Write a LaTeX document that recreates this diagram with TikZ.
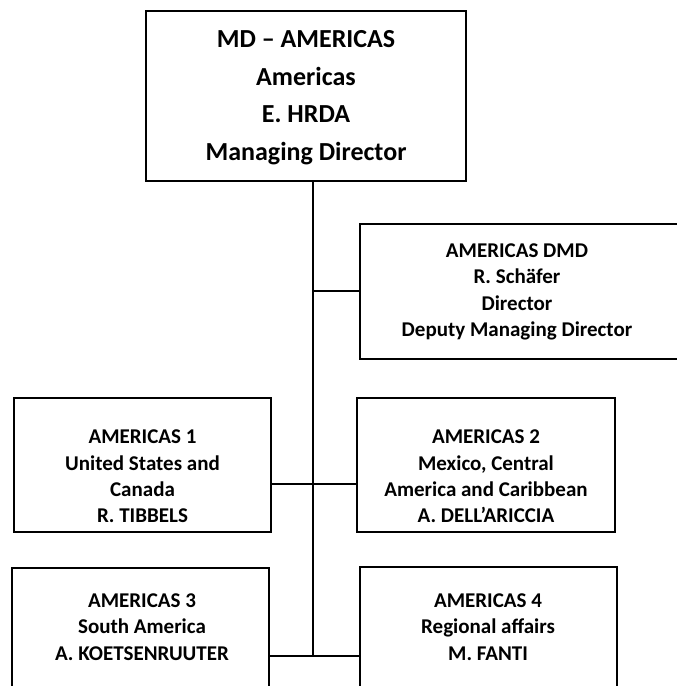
\documentclass[tikz,border=0pt]{standalone}
\usepackage{fontspec}
\setmainfont{Carlito}
\usetikzlibrary{shadows}
\tikzset{
  box/.style={draw=black, line width=1.2pt, fill=white, rectangle, inner sep=0pt,
    drop shadow={shadow xshift=1.2pt, shadow yshift=-1.2pt, fill=black!45, opacity=1}},
  headtxt/.style={align=center, inner sep=0pt,
    font=\fontsize{26}{37.5}\selectfont\bfseries},
  unittxt/.style={align=center, inner sep=0pt,
    font=\fontsize{21}{26.3}\selectfont\bfseries},
  link/.style={draw=black, line width=1.3pt}
}
\begin{document}
\begin{tikzpicture}[x=1pt, y=-1pt]
\useasboundingbox (0,0) rectangle (677,686);
\fill[white] (0,0) rectangle (677,686);
\clip (0,0) rectangle (677,686);

% boxes
\node[box, minimum width=320, minimum height=170] (md) at (306,96) {};
\node[box, minimum width=340, minimum height=135] (dmd) at (530,291.5) {};
\node[box, minimum width=257, minimum height=134] (a1) at (142.5,465) {};
\node[box, minimum width=258, minimum height=134] (a2) at (486,465) {};
\node[box, minimum width=257, minimum height=150] (a3) at (140.5,643) {};
\node[box, minimum width=257, minimum height=150] (a4) at (488.5,642) {};

% junction points on the trunk
\coordinate (jd) at (313,291);
\coordinate (j1) at (313,484);
\coordinate (j3) at (313,656);
\coordinate (topj) at (313,181);

% connectors
\draw[link] (topj) -- (j3);
\draw[link] (jd) -- (dmd.west |- jd);
\draw[link] (a1.east |- j1) -- (a2.west |- j1);
\draw[link] (a3.east |- j3) -- (a4.west |- j3);

% texts
\node[headtxt] (tmd) at (306,97.5) {MD -- AMERICAS\\Americas\\E. HRDA\\Managing Director};
\node[unittxt] (tdmd) at (517,292) {AMERICAS DMD\\R. Schäfer\\Director\\Deputy Managing Director};
\node[unittxt] (ta1) at (142.5,476.5) {AMERICAS 1\\United States and\\Canada\\R. TIBBELS};
\node[unittxt] (ta2) at (486,476.5) {AMERICAS 2\\Mexico, Central\\America and Caribbean\\A. DELL’ARICCIA};
\node[unittxt] (ta3) at (142,627) {AMERICAS 3\\South America\\A. KOETSENRUUTER};
\node[unittxt] (ta4) at (488,627) {AMERICAS 4\\Regional affairs\\M. FANTI};
\end{tikzpicture}
\end{document}
